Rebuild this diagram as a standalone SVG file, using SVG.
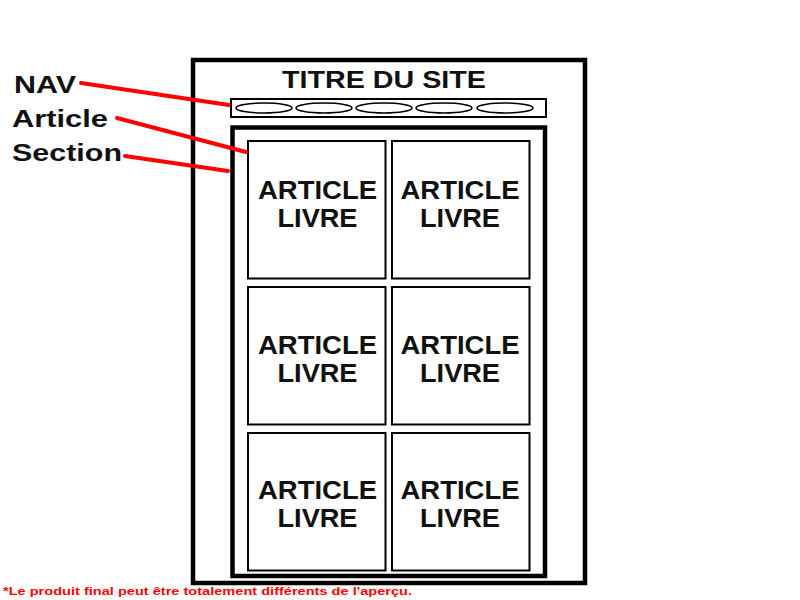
<svg xmlns="http://www.w3.org/2000/svg" width="800" height="600" viewBox="0 0 800 600">
  <style>
    .frame { fill: #fff; stroke: #000; }
    .card { fill: #fff; stroke: #000; stroke-width: 2; }
    .pill { fill: #fff; stroke: #000; stroke-width: 1.6; }
    .card-text { font-family: "Liberation Sans", "DejaVu Sans", sans-serif; font-weight: bold; font-size: 26px; fill: #111; text-anchor: middle; }
    .label { font-family: "Liberation Sans", "DejaVu Sans", sans-serif; font-weight: bold; font-size: 24px; fill: #111; }
    .leader { stroke: #f00; stroke-width: 4; stroke-linecap: round; fill: none; }
    .note { font-family: "Liberation Sans", "DejaVu Sans", sans-serif; font-weight: bold; font-size: 11px; fill: #f00; }
  </style>
  <rect width="800" height="600" fill="#fff"/>

  <!-- page frame -->
  <g id="page">
    <rect class="frame" x="193" y="60" width="392" height="523" stroke-width="4.5"/>
    <text class="label" x="384" y="88" text-anchor="middle" textLength="204" lengthAdjust="spacingAndGlyphs">TITRE DU SITE</text>
  </g>

  <!-- navigation bar -->
  <g id="nav">
    <rect class="frame" x="231" y="99" width="315" height="18" stroke-width="2"/>
    <ellipse class="pill" cx="264" cy="108" rx="28" ry="5"/>
    <ellipse class="pill" cx="324" cy="108" rx="28" ry="5"/>
    <ellipse class="pill" cx="384" cy="108" rx="28" ry="5"/>
    <ellipse class="pill" cx="444" cy="108" rx="28" ry="5"/>
    <ellipse class="pill" cx="505" cy="108" rx="28" ry="5"/>
  </g>

  <!-- section container -->
  <g id="section">
    <rect class="frame" x="232.5" y="127.5" width="312.5" height="448.5" stroke-width="4.5"/>
  </g>

  <!-- article cards, 2 x 3 grid -->
  <g id="article-1">
    <rect class="card" x="248" y="141" width="137.5" height="137.5"/>
    <text class="card-text" x="317.5" y="199" textLength="119" lengthAdjust="spacingAndGlyphs">ARTICLE</text>
    <text class="card-text" x="317.5" y="227" textLength="80" lengthAdjust="spacingAndGlyphs">LIVRE</text>
  </g>
  <g id="article-2">
    <rect class="card" x="392" y="141" width="137.5" height="137.5"/>
    <text class="card-text" x="460" y="199" textLength="119" lengthAdjust="spacingAndGlyphs">ARTICLE</text>
    <text class="card-text" x="460" y="227" textLength="80" lengthAdjust="spacingAndGlyphs">LIVRE</text>
  </g>
  <g id="article-3">
    <rect class="card" x="248" y="287" width="137.5" height="137.5"/>
    <text class="card-text" x="317.5" y="354" textLength="119" lengthAdjust="spacingAndGlyphs">ARTICLE</text>
    <text class="card-text" x="317.5" y="382" textLength="80" lengthAdjust="spacingAndGlyphs">LIVRE</text>
  </g>
  <g id="article-4">
    <rect class="card" x="392" y="287" width="137.5" height="137.5"/>
    <text class="card-text" x="460" y="354" textLength="119" lengthAdjust="spacingAndGlyphs">ARTICLE</text>
    <text class="card-text" x="460" y="382" textLength="80" lengthAdjust="spacingAndGlyphs">LIVRE</text>
  </g>
  <g id="article-5">
    <rect class="card" x="248" y="433" width="137.5" height="137.5"/>
    <text class="card-text" x="317.5" y="499" textLength="119" lengthAdjust="spacingAndGlyphs">ARTICLE</text>
    <text class="card-text" x="317.5" y="527" textLength="80" lengthAdjust="spacingAndGlyphs">LIVRE</text>
  </g>
  <g id="article-6">
    <rect class="card" x="392" y="433" width="137.5" height="137.5"/>
    <text class="card-text" x="460" y="499" textLength="119" lengthAdjust="spacingAndGlyphs">ARTICLE</text>
    <text class="card-text" x="460" y="527" textLength="80" lengthAdjust="spacingAndGlyphs">LIVRE</text>
  </g>

  <!-- callout labels -->
  <g id="label-nav">
    <text class="label" x="14" y="93" textLength="62" lengthAdjust="spacingAndGlyphs">NAV</text>
  </g>
  <g id="label-article">
    <text class="label" x="12" y="127" textLength="96" lengthAdjust="spacingAndGlyphs">Article</text>
  </g>
  <g id="label-section">
    <text class="label" x="12" y="161" textLength="110" lengthAdjust="spacingAndGlyphs">Section</text>
  </g>

  <!-- leader lines -->
  <g id="connectors">
    <line class="leader" x1="81" y1="83" x2="229" y2="105"/>
    <line class="leader" x1="117" y1="118" x2="246" y2="152"/>
    <line class="leader" x1="125" y1="156" x2="228" y2="171"/>
  </g>

  <g id="footnote">
    <text class="note" x="3" y="595" textLength="409" lengthAdjust="spacingAndGlyphs">*Le produit final peut être totalement différents de l'aperçu.</text>
  </g>
</svg>
